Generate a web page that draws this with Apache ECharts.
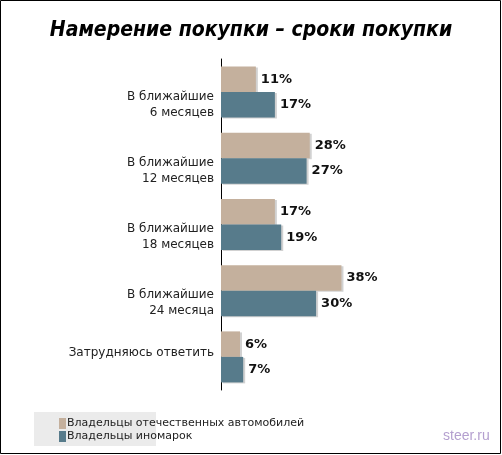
<!DOCTYPE html>
<html>
<head>
<meta charset="utf-8">
<script src="https://cdn.jsdelivr.net/npm/echarts@6/dist/echarts.min.js"></script>
<style>html,body{margin:0;padding:0;background:#fff}#c{width:502px;height:455px}</style>
</head>
<body>
<div id="c"></div>
<script>
const titleText = 'Намерение покупки – сроки покупки';
const categories = ['В ближайшие\n6 месяцев', 'В ближайшие\n12 месяцев', 'В ближайшие\n18 месяцев', 'В ближайшие\n24 месяца', 'Затрудняюсь ответить'];
const seriesNames = ['Владельцы отечественных автомобилей', 'Владельцы иномарок'];
const domestic = [11, 28, 17, 38, 6];
const foreign = [17, 27, 19, 30, 7];
const watermark = 'steer.ru';

const chart = echarts.init(document.getElementById('c'), null, {renderer: 'canvas'});
const labelCfg = {show: true, position: 'right', distance: 5, formatter: '{c}%', fontFamily: 'DejaVu Sans', fontWeight: 'bold', fontSize: 13, color: '#111'};
chart.setOption({
  animation: false,
  title: {text: titleText, left: 'center', top: 15, textStyle: {fontFamily: '"DejaVu Sans Condensed", "DejaVu Sans"', fontStyle: 'italic', fontWeight: 'bold', fontSize: 21, color: '#000'}},
  graphic: [
    {type: 'rect', shape: {x: 0.5, y: 0.5, width: 500, height: 453}, style: {fill: 'none', stroke: '#000', lineWidth: 1}, z: 100},
    {type: 'rect', shape: {x: 34, y: 412, width: 122, height: 34}, style: {fill: '#ebebeb'}, z: -1},
    {type: 'text', left: 443, top: 429, style: {text: watermark, fontFamily: 'Liberation Sans', fontSize: 14, fill: '#b49fcf'}}
  ],
  legend: {orient: 'vertical', left: 54, top: 413, itemWidth: 7, itemHeight: 11, itemGap: 2, icon: 'rect',
    textStyle: {fontFamily: 'DejaVu Sans', fontSize: 11, color: '#222', padding: [0, 0, 0, -4]}},
  grid: {left: 221, top: 59, width: 158.5, height: 331},
  xAxis: {type: 'value', min: 0, max: 50, show: false},
  yAxis: {type: 'category', inverse: true, data: categories,
    axisLine: {lineStyle: {color: '#000', width: 1}},
    axisTick: {length: 5, lineStyle: {color: '#000'}},
    axisLabel: {margin: 7, align: 'right', verticalAlign: 'middle',
      formatter: function (v) {
        const p = v.split('\n');
        if (p.length > 1) return '{s| }\n{t|' + p[0] + '}\n{t|' + p[1] + '}';
        return '{t|' + v + '}\n{s2| }';
      },
      rich: {
        t: {fontFamily: 'DejaVu Sans', fontSize: 12, color: '#222', lineHeight: 16, align: 'right'},
        s: {fontSize: 1, lineHeight: 25},
        s2: {fontSize: 1, lineHeight: 8}
      }}},
  series: [
    {name: seriesNames[0], type: 'bar', data: domestic, barWidth: 25.5, barGap: '0%',
      itemStyle: {color: '#c4b09d', shadowColor: 'rgba(0,0,0,0.18)', shadowOffsetX: 2, shadowOffsetY: 1, shadowBlur: 0}, label: labelCfg},
    {name: seriesNames[1], type: 'bar', data: foreign, barWidth: 25.5, barGap: '0%',
      itemStyle: {color: '#577b8b', shadowColor: 'rgba(0,0,0,0.18)', shadowOffsetX: 2, shadowOffsetY: 1, shadowBlur: 0}, label: labelCfg}
  ]
});
</script>
</body>
</html>
